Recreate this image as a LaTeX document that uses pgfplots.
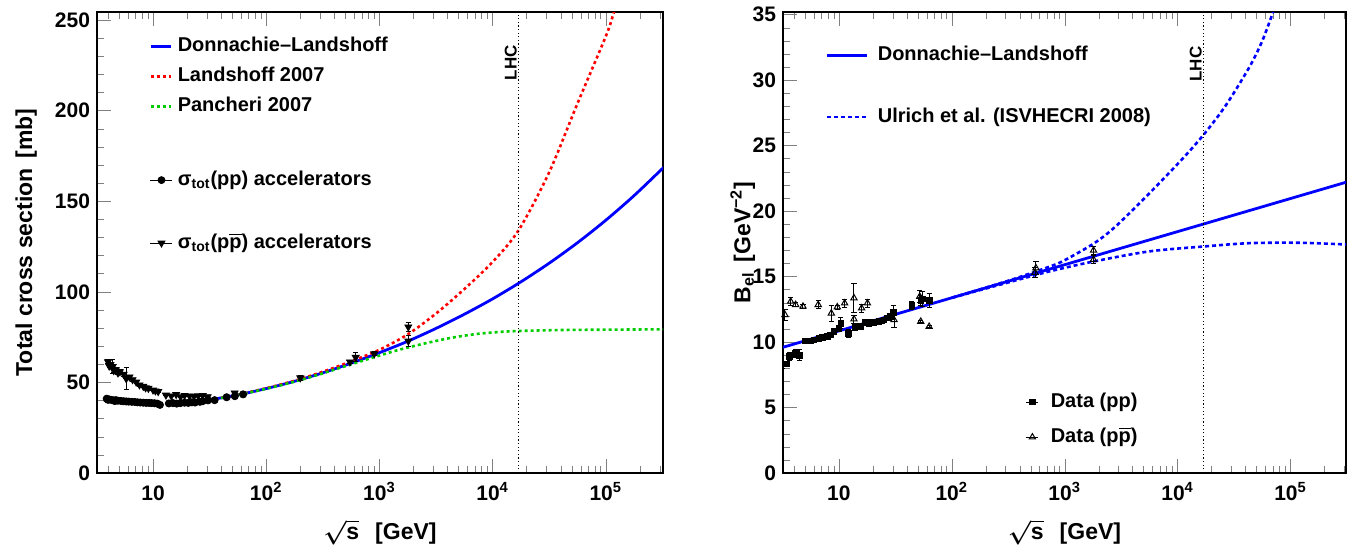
\documentclass[border=0pt]{standalone}
\usepackage{fontspec}
\setmainfont{Liberation Sans}
\usepackage{pgfplots}
\pgfplotsset{compat=1.18}
\newcommand{\pbar}{\ensuremath{\overline{\mbox{p}}}}
\definecolor{rblue}{rgb}{0,0,1}
\definecolor{rred}{rgb}{1,0,0}
\definecolor{rgreen}{rgb}{0,0.8,0}
\newcommand{\legfont}{\fontsize{10}{12}\selectfont\bfseries}
\newcommand{\labfont}{\fontsize{11.5}{13}\selectfont\bfseries}

\pgfplotsset{
 rbase/.style={
  scale only axis,
  height=230.5pt,
  tick align=inside,
  xtick pos=both, ytick pos=left,
  major tick length=7pt, minor tick length=3.6pt,
  axis line style={line width=0.8pt},
  xtick={10,100,1000,10000,100000},
  xticklabels={10,10\textsuperscript{2},10\textsuperscript{3},10\textsuperscript{4},10\textsuperscript{5}},
  minor xtick={4,5,6,7,8,9,20,30,40,50,60,70,80,90,200,300,400,500,600,700,800,900,2000,3000,4000,5000,6000,7000,8000,9000,20000,30000,40000,50000,60000,70000,80000,90000,200000,300000},
  xticklabel style={font=\fontsize{10.5}{12}\selectfont\bfseries, anchor=base, yshift=-13.5pt},
  yticklabel style={font=\fontsize{10.5}{12}\selectfont\bfseries},
  /pgf/number format/assume math mode=true,
  legend cell align=left,
 },
 rhid/.style={scale only axis, height=230.5pt, hide axis, legend cell align=left},
}

\begin{document}
\begin{tikzpicture}
\useasboundingbox (0,0) rectangle (677pt,274pt);

%================ LEFT PANEL: curves ================
\begin{axis}[xmode=log, rbase, at={(48.5pt,37.5pt)}, anchor=south west, width=283pt,
  xmin=3.2, xmax=320000, ymin=0, ymax=254.4,
  ytick={0,50,100,150,200,250},
  minor ytick={10,20,30,40,60,70,80,90,110,120,130,140,160,170,180,190,210,220,230,240},
  xlabel={{\boldmath$\sqrt{\mbox{s}}$}\hspace{8pt}[GeV]},
  ylabel={Total cross section\hspace{5pt}[mb]},
  every axis x label/.style={at={(axis description cs:0.5,-0.1453)}, anchor=base, font=\labfont},
  every axis y label/.style={at={(axis description cs:-0.1148,0.5)}, rotate=90, anchor=base, font=\labfont},
  legend style={draw=none, fill=none, inner sep=0pt, outer sep=0pt, font=\legfont,
     nodes={inner sep=0pt, text height=7.5pt, text depth=2.5pt},
     at={(axis description cs:0.0936,0.9475)}, anchor=north west, row sep=5pt, column sep=2.5pt},
  legend image code/.code={\draw[#1] (0pt,0pt) -- (10pt,0pt);},
]
\addplot[rblue, line width=1.4pt, smooth] coordinates {
(31.62,40.4)(56.23,43.1)(100,46.6)(177.8,50.6)(316.2,55.3)(562.3,60.6)(1000,66.4)(1778,72.7)(3162,79.8)(5623,87.6)(10000,96.1)(17783,105.5)(31623,115.8)(56234,127.1)(100000,139.5)(177828,153.1)(316228,168.0)(331131,169.2)};
\addlegendentry{Donnachie–Landshoff}
\addplot[rred, line width=1.3pt, dash pattern=on 1.5pt off 1.5pt, smooth] coordinates {
(39.8,41.4)(56.23,43.2)(100,46.8)(177.8,50.9)(316.2,55.9)(562.3,61.6)(1000,68.0)(1778,76.5)(3162,88.0)(5623,101.5)(10000,116.5)(16982,134)(31623,166)(56234,204)(100000,241)(117490,254)(125893,260)};
\addlegendentry{Landshoff 2007}
\addplot[rgreen, line width=1.3pt, dash pattern=on 1.5pt off 1.5pt, smooth] coordinates {
(39.8,41.4)(56.23,43.1)(100,46.5)(177.8,50.4)(316.2,55.0)(562.3,60.0)(1000,64.8)(1413,67.6)(1995,70.0)(2818,72.2)(3981,74.2)(5623,75.8)(7943,77.0)(12589,78.0)(19953,78.5)(39811,78.9)(100000,79.1)(331131,79.3)};
\addlegendentry{Pancheri 2007}
\addplot[black, line width=0.6pt, dash pattern=on 0.6pt off 1.2pt, forget plot] coordinates {(17000,0)(17000,254.4)};
\node[rotate=90, anchor=base east, font=\fontsize{8.5}{10}\selectfont\bfseries] at (axis cs:16300,240) {LHC};
\end{axis}

%================ LEFT PANEL: data ================
\begin{axis}[xmode=log, rhid, at={(48.5pt,37.5pt)}, anchor=south west, width=283pt,
  xmin=3.2, xmax=320000, ymin=0, ymax=254.4,
  legend style={draw=none, fill=none, inner sep=0pt, outer sep=0pt, font=\legfont,
     nodes={inner sep=0pt, text height=7.5pt, text depth=2.5pt},
     at={(axis description cs:0.0936,0.657)}, anchor=north west, row sep=21.5pt, column sep=2.5pt},
  legend image code/.code={\draw[#1, mark repeat=2, mark phase=2] plot coordinates {(0pt,0pt)(5.5pt,0pt)(11pt,0pt)};},
]
\addlegendimage{black, line width=0.5pt, mark=*, mark size=1.7pt}
\addlegendentry{σ\textsubscript{tot}(pp) accelerators}
\addlegendimage{black, line width=0.5pt, mark=triangle*, mark size=1.9pt, mark options={rotate=180}}
\addlegendentry{σ\textsubscript{tot}(p\pbar) accelerators}
\addplot[black, only marks, mark=*, mark size=1.8pt, error bars/.cd, y dir=both, y explicit,
  error bar style={line width=0.5pt}, error mark options={mark size=1.3pt, rotate=90, line width=0.5pt}] table[x=x, y=y, y error=e] {
x y e
3.9 41.0 0.8
4.0 40.4 0.5
4.1 40.6 0.5
4.3 40.3 0.5
4.5 40.1 0.4
4.6 39.7 0.4
4.7 40.2 0.4
4.9 39.9 0.3
5.2 39.8 0.3
5.5 39.6 0.3
5.8 39.5 0.3
6.1 39.4 0.3
6.5 39.3 0.3
6.9 39.2 0.3
7.3 39.0 0.3
7.7 38.9 0.3
8.2 38.8 0.3
8.7 38.7 0.3
9.2 38.7 0.3
9.7 38.6 0.3
10.3 38.5 0.3
10.9 38.3 0.3
11.5 37.6 0.5
13.8 38.4 0.4
15.0 38.6 0.3
16.2 38.3 0.3
17.5 38.6 0.3
19.0 38.8 0.3
20.5 38.7 0.3
22.0 39.0 0.3
23.5 38.9 0.3
26.0 39.3 0.3
27.4 39.6 0.3
30.6 40.1 0.3
35.0 40.2 0.3
44.7 41.8 0.5
52.8 42.4 0.4
62.5 43.4 0.5
};
\addplot[black, only marks, mark=triangle*, mark size=2pt, mark options={rotate=180}, error bars/.cd, y dir=both, y explicit,
  error bar style={line width=0.5pt}, error mark options={mark size=1.3pt, rotate=90, line width=0.5pt}] table[x=x, y=y, y error=e] {
x y e
4.0 61.4 1.0
4.1 59.0 1.0
4.2 59.8 1.0
4.4 58.7 4.0
4.5 56.5 1.0
4.7 57.0 1.0
4.9 55.2 1.0
5.1 55.9 1.0
5.5 54.5 1.0
5.8 52.0 6.0
6.2 53.0 0.8
6.6 51.5 0.8
7.1 50.2 0.6
7.6 48.6 0.6
8.2 47.8 0.5
8.6 47.0 0.5
9.1 46.7 0.5
10.0 45.8 0.5
10.5 45.3 0.5
11.1 44.9 0.5
13.0 43.0 0.4
14.5 42.5 0.4
16.0 43.3 0.4
17.5 42.1 0.4
19.0 42.8 0.4
21.0 42.5 0.4
23.0 42.4 0.4
25.0 42.6 0.4
27.5 42.8 0.4
30.4 42.1 0.3
52.6 44.2 0.5
200 52.5 1.2
549 61.3 0.9
617 63.8 2.5
900 65.8 1.0
1800 72.8 3.1
1800 80.6 2.3
};
\end{axis}

%================ RIGHT PANEL: curves ================
\begin{axis}[xmode=log, rbase, at={(391.5pt,37.5pt)}, anchor=south west, width=281.5pt,
  xmin=3.2, xmax=310000, ymin=0, ymax=35.2,
  ytick={0,5,10,15,20,25,30,35},
  minor ytick={1,2,3,4,6,7,8,9,11,12,13,14,16,17,18,19,21,22,23,24,26,27,28,29,31,32,33,34},
  xlabel={{\boldmath$\sqrt{\mbox{s}}$}\hspace{8pt}[GeV]},
  ylabel={B\textsubscript{el}\hspace{5pt}[GeV\textsuperscript{−2}]},
  every axis x label/.style={at={(axis description cs:0.5,-0.1453)}, anchor=base, font=\labfont},
  every axis y label/.style={at={(axis description cs:-0.058,0.5)}, rotate=90, anchor=base, font=\labfont},
  legend style={draw=none, fill=none, inner sep=0pt, outer sep=0pt, font=\legfont,
     nodes={inner sep=0pt, text height=7.5pt, text depth=2.5pt},
     at={(axis description cs:0.0764,0.928)}, anchor=north west, row sep=21pt, column sep=4.5pt},
  legend image code/.code={\draw[#1] (0pt,0pt) -- (20pt,0pt);},
]
\addplot[rblue, line width=1.4pt] coordinates {(3.2,9.6)(310000,22.2)};
\addlegendentry{Donnachie–Landshoff}
\addplot[rblue, line width=1.3pt, dash pattern=on 2pt off 1.5pt, smooth] coordinates {
(100,13.38)(316,14.68)(730,15.75)(1000,16.25)(1828,17.55)(2844,18.85)(5610,21.35)(11066,24.0)(17258,25.9)(26853,28.1)(43251,31.0)(56234,33.0)(70795,35.3)};
\addlegendentry{Ulrich et al. (ISVHECRI 2008)}
\addplot[rblue, line width=1.3pt, dash pattern=on 2pt off 1.5pt, smooth, forget plot] coordinates {
(100,13.38)(316,14.55)(730,15.39)(1828,16.16)(5610,16.92)(17260,17.3)(43250,17.55)(120000,17.58)(310000,17.45)};
\addplot[black, line width=0.6pt, dash pattern=on 0.6pt off 1.2pt, forget plot] coordinates {(17000,0)(17000,35.2)};
\node[rotate=90, anchor=base east, font=\fontsize{8.5}{10}\selectfont\bfseries] at (axis cs:16300,33.1) {LHC};
\end{axis}

%================ RIGHT PANEL: data ================
\begin{axis}[xmode=log, rhid, at={(391.5pt,37.5pt)}, anchor=south west, width=281.5pt,
  xmin=3.2, xmax=310000, ymin=0, ymax=35.2,
  legend style={draw=none, fill=none, inner sep=0pt, outer sep=0pt, font=\legfont,
     nodes={inner sep=0pt, text height=7.5pt, text depth=2.5pt},
     at={(axis description cs:0.4316,0.1753)}, anchor=north west, row sep=7.5pt, column sep=6pt},
  legend image code/.code={\draw[#1] plot coordinates {(3pt,0pt)}; \path (0pt,0pt) -- (6pt,0pt);},
]
\addlegendimage{black, only marks, mark=square*, mark size=1.3pt}
\addlegendentry{Data (pp)}
\addlegendimage{black, only marks, mark=triangle, mark size=1.8pt, mark options={fill=white, line width=0.5pt}}
\addlegendentry{Data (p\pbar)}
\addplot[black, only marks, mark=square*, mark size=1.4pt, error bars/.cd, y dir=both, y explicit,
  error bar style={line width=0.5pt}, error mark options={mark size=1.3pt, rotate=90, line width=0.5pt}] table[x=x, y=y, y error=e] {
x y e
3.15 8.13 0.15
3.42 8.33 0.2
3.66 8.9 0.3
4.14 9.15 0.3
4.49 9.0 0.4
5.08 10.1 0.1
5.62 10.1 0.1
6.01 10.17 0.1
6.67 10.3 0.1
7.13 10.35 0.1
7.89 10.42 0.1
8.45 10.55 0.1
9.06 10.8 0.1
10.0 11.06 0.15
10.4 11.44 0.4
12.1 10.68 0.3
13.9 11.1 0.2
15.6 11.18 0.2
17.0 11.5 0.2
18.5 11.44 0.1
19.5 11.5 0.1
20.5 11.52 0.1
21.5 11.55 0.1
22.6 11.57 0.1
23.8 11.62 0.1
25.1 11.7 0.1
26.9 11.83 0.1
28.5 11.95 0.1
30.3 12.26 0.5
44.2 12.79 0.3
53.1 13.17 0.4
54.8 13.28 0.6
63.0 13.17 0.5
};
\addplot[black, only marks, mark=triangle, mark size=1.8pt, mark options={fill=white, line width=0.5pt}, error bars/.cd, y dir=both, y explicit,
  error bar style={line width=0.5pt}, error mark options={mark size=1.3pt, rotate=90, line width=0.5pt}] table[x=x, y=y, y error=e] {
x y e
3.33 12.08 0.4
3.74 13.1 0.3
4.14 12.85 0.15
4.81 12.72 0.15
6.56 12.85 0.3
8.57 12.2 0.6
9.68 12.67 0.15
11.25 12.97 0.3
13.6 13.36 1.1
13.6 11.75 0.3
15.9 12.59 0.3
17.9 12.97 0.3
30.8 11.7 0.6
52.0 13.48 0.45
53.1 11.57 0.1
63.0 11.18 0.1
546 15.3 0.4
556 15.65 0.5
1800 16.3 0.3
1800 17.0 0.3
};
\end{axis}
\end{tikzpicture}
\end{document}
